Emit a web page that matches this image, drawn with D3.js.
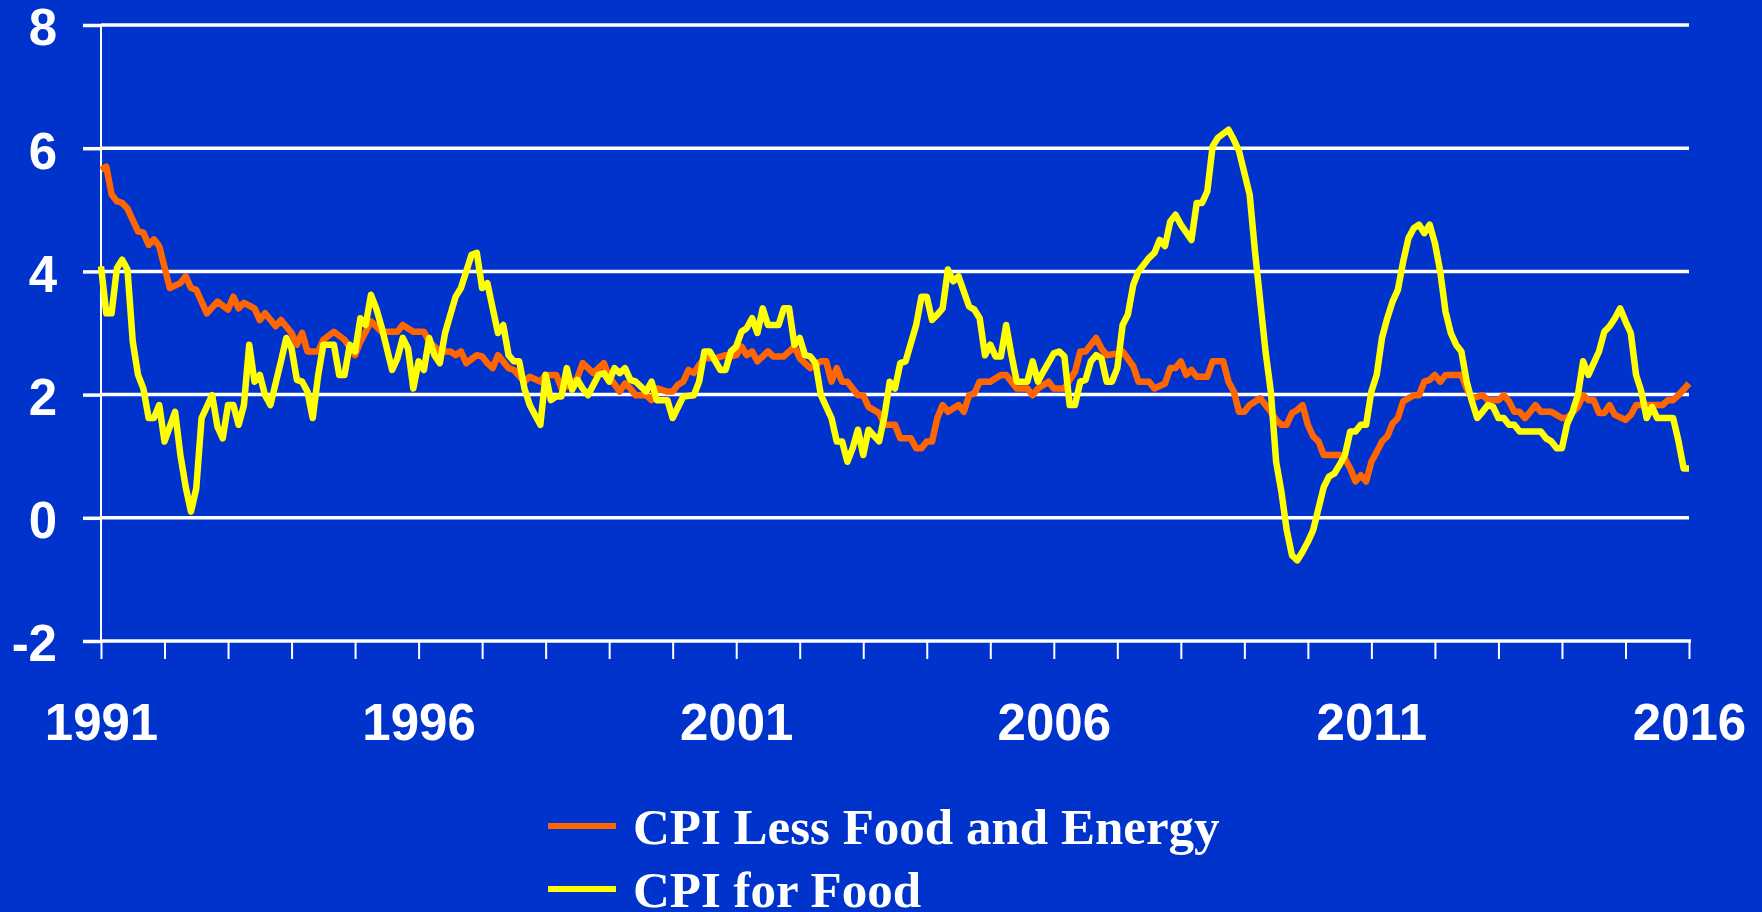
<!DOCTYPE html>
<html>
<head>
<meta charset="utf-8">
<script src="https://cdn.jsdelivr.net/npm/d3@7"></script>
<style>
  html, body { margin: 0; padding: 0; background: #0033CC; overflow: hidden; }
  svg { display: block; }
</style>
</head>
<body>
<svg id="chart" width="1762" height="912"></svg>
<script>
// ---- Data (months counted from Jan 1991, values in % change y/y) ----
const yTickValues = [-2, 0, 2, 4, 6, 8];
const yTickLabels = ["-2", "0", "2", "4", "6", "8"];
const yearLabels = ["1991", "1996", "2001", "2006", "2011", "2016"];
const seriesNames = ["CPI Less Food and Energy", "CPI for Food"];

const coreMonths = [0,1,2,3,4,5,7,8,9,10,11,13,15,16,17,18,20,22,24,25,26,27,29,30,31,33,34,36,37,38,39,41,42,44,46,48,49,50,51,53,56,57,59,61,62,64,66,67,68,69,71,72,73,74,75,77,78,80,81,83,84,86,87,89,90,91,93,95,96,98,99,100,101,103,104,105,107,108,109,110,111,112,113,114,116,118,119,120,121,122,123,124,126,127,129,131,132,134,136,137,138,139,140,141,143,144,145,147,148,150,151,153,154,155,156,157,158,159,160,162,163,164,165,166,168,170,171,172,173,175,176,177,179,180,182,184,185,186,187,188,189,190,192,193,195,196,198,199,201,202,203,204,205,206,207,209,210,212,213,214,215,216,217,219,221,222,223,224,225,226,227,228,229,230,231,234,235,236,237,238,239,240,241,242,243,244,245,246,248,249,250,251,252,253,254,257,258,259,261,262,264,265,266,267,268,269,270,271,272,274,276,277,279,280,281,282,283,284,285,286,288,289,290,295,296,297,298,300];
const coreValues = [5.65,5.70,5.25,5.14,5.11,5.02,4.65,4.63,4.43,4.52,4.41,3.73,3.81,3.92,3.73,3.70,3.32,3.51,3.38,3.59,3.40,3.49,3.40,3.21,3.32,3.11,3.21,3.00,2.81,3.00,2.70,2.70,2.89,3.02,2.89,2.64,2.86,3.02,3.19,3.02,3.02,3.13,3.02,3.02,2.86,2.70,2.70,2.64,2.70,2.51,2.64,2.62,2.51,2.43,2.64,2.43,2.40,2.21,2.29,2.21,2.32,2.32,2.10,2.18,2.27,2.51,2.35,2.51,2.29,2.05,2.18,2.10,1.99,1.99,1.91,2.10,2.05,2.05,2.16,2.21,2.40,2.35,2.48,2.59,2.59,2.64,2.62,2.64,2.78,2.64,2.70,2.54,2.70,2.62,2.62,2.78,2.59,2.43,2.54,2.54,2.21,2.43,2.21,2.21,1.99,1.99,1.80,1.70,1.51,1.51,1.29,1.29,1.13,1.13,1.24,1.24,1.62,1.83,1.72,1.83,1.72,1.99,2.02,2.21,2.21,2.32,2.32,2.21,2.10,2.10,1.99,2.10,2.21,2.10,2.10,2.37,2.70,2.70,2.81,2.92,2.75,2.64,2.67,2.70,2.46,2.21,2.21,2.10,2.18,2.43,2.43,2.54,2.32,2.40,2.29,2.29,2.54,2.54,2.21,2.05,1.72,1.72,1.83,1.94,1.72,1.59,1.51,1.51,1.70,1.75,1.83,1.51,1.32,1.24,1.02,1.02,0.96,0.80,0.59,0.69,0.59,0.91,1.07,1.24,1.32,1.53,1.62,1.89,1.99,1.99,2.21,2.24,2.32,2.21,2.32,2.32,2.10,1.94,1.99,1.91,1.91,1.99,1.89,1.72,1.72,1.62,1.72,1.83,1.72,1.72,1.62,1.62,1.80,1.99,1.91,1.91,1.70,1.70,1.83,1.67,1.59,1.67,1.83,1.83,1.91,1.91,1.99,2.18];

const foodMonths = [0,1,2,3,4,5,6,7,8,9,10,11,12,14,15,16,17,18,19,21,22,23,24,25,26,27,28,29,30,31,32,34,35,36,37,38,39,40,41,42,44,45,46,47,48,49,50,51,52,53,55,56,57,58,59,60,61,62,63,64,65,66,67,68,70,71,72,73,74,75,76,77,78,79,80,81,82,83,84,85,86,87,88,89,90,91,92,94,95,96,97,98,99,100,101,103,104,105,107,108,110,112,113,114,115,117,118,119,120,121,122,123,124,125,126,128,129,130,131,132,133,134,135,136,138,139,140,141,142,143,144,145,147,148,149,150,151,152,154,155,156,157,158,159,160,161,162,164,165,166,167,168,169,170,171,172,173,175,176,177,178,180,181,182,183,184,185,186,187,188,189,190,191,192,193,194,195,196,198,199,200,201,202,203,204,206,207,208,209,210,211,213,214,215,217,218,220,221,222,223,224,225,226,227,228,229,230,231,232,233,234,235,236,237,238,239,240,241,242,243,244,245,246,247,248,249,250,251,252,253,254,255,256,257,258,259,260,261,262,263,264,265,266,267,268,272,273,274,275,276,277,278,279,280,281,282,283,284,285,286,287,288,289,290,291,292,293,294,297,298,299,300];
const foodValues = [4.08,3.32,3.32,4.05,4.19,4.03,2.86,2.32,2.10,1.62,1.62,1.83,1.24,1.72,1.02,0.50,0.10,0.48,1.62,1.99,1.48,1.29,1.83,1.83,1.51,1.83,2.81,2.21,2.32,1.99,1.83,2.54,2.92,2.75,2.24,2.21,2.05,1.62,2.30,2.81,2.81,2.32,2.32,2.81,2.70,3.24,3.13,3.62,3.40,3.10,2.40,2.59,2.92,2.75,2.10,2.54,2.40,2.92,2.64,2.51,3.00,3.30,3.59,3.73,4.27,4.30,3.73,3.81,3.40,3.00,3.13,2.64,2.54,2.54,2.10,1.83,1.67,1.51,2.32,1.91,1.97,1.97,2.43,2.08,2.24,2.10,1.99,2.32,2.35,2.21,2.43,2.35,2.43,2.24,2.21,2.05,2.21,1.91,1.91,1.62,1.97,1.99,2.21,2.70,2.70,2.40,2.40,2.70,2.78,3.02,3.08,3.24,3.00,3.40,3.13,3.13,3.40,3.40,2.81,2.92,2.64,2.62,2.51,1.99,1.62,1.24,1.24,0.91,1.13,1.43,1.02,1.43,1.24,1.65,2.21,2.10,2.51,2.54,3.13,3.59,3.59,3.21,3.30,3.40,4.03,3.84,3.92,3.43,3.38,3.24,2.64,2.81,2.62,2.62,3.13,2.64,2.21,2.21,2.54,2.21,2.37,2.67,2.70,2.62,1.83,1.83,2.21,2.24,2.54,2.64,2.59,2.21,2.21,2.43,3.13,3.30,3.78,4.00,4.22,4.30,4.51,4.41,4.81,4.92,4.76,4.51,5.11,5.11,5.30,6.03,6.17,6.30,6.14,5.95,5.25,4.33,2.70,2.05,0.91,0.42,-0.20,-0.61,-0.69,-0.55,-0.39,-0.20,0.15,0.50,0.67,0.72,0.86,1.02,1.40,1.40,1.51,1.51,2.05,2.32,2.92,3.24,3.51,3.70,4.16,4.54,4.70,4.76,4.62,4.76,4.46,4.00,3.35,3.00,2.81,2.70,2.21,1.89,1.62,1.72,1.83,1.80,1.62,1.62,1.51,1.51,1.40,1.40,1.29,1.24,1.13,1.13,1.53,1.72,1.99,2.54,2.32,2.51,2.70,3.02,3.11,3.24,3.40,3.19,3.00,2.32,2.05,1.62,1.80,1.62,1.62,1.25,0.80,0.80];

const seriesColors = ["#FF6600", "#FFFF00"];

// ---- Layout ----
const svg = d3.select("#chart");
const plotLeft = 101, plotRight = 1689, plotTop = 25, plotBottom = 641;
const x = d3.scaleLinear().domain([0, 300]).range([plotLeft, plotRight]);
const y = d3.scaleLinear().domain([-2, 8]).range([plotBottom, plotTop]);

svg.append("rect").attr("width", 1762).attr("height", 912).attr("fill", "#0033CC");

// Gridlines
svg.append("g")
  .selectAll("line")
  .data(yTickValues.filter(v => v > -2))
  .join("line")
  .attr("x1", plotLeft).attr("x2", plotRight)
  .attr("y1", d => y(d)).attr("y2", d => y(d))
  .attr("stroke", "#FFFFFF").attr("stroke-width", 3.5);

// Y axis
const yAxis = svg.append("g")
  .attr("transform", `translate(${plotLeft},0)`)
  .call(d3.axisLeft(y).tickValues(yTickValues).tickSize(18).tickSizeOuter(0).tickPadding(26)
    .tickFormat(d => yTickLabels[yTickValues.indexOf(d)]));
yAxis.select(".domain").attr("stroke", "#FFFFFF").attr("stroke-width", 2).attr("d", `M0,${plotTop - 1}V${plotBottom}`);
yAxis.selectAll(".tick line").attr("stroke", "#FFFFFF").attr("stroke-width", 3.5);
yAxis.selectAll(".tick text")
  .attr("fill", "#FFFFFF")
  .attr("dy", "0.39em")
  .style("font-family", "'Liberation Sans', Arial, sans-serif")
  .style("font-weight", "bold")
  .style("font-size", "51px");

// X axis
const xTicks = d3.range(0, 301, 12);
const xAxis = svg.append("g")
  .attr("transform", `translate(0,${plotBottom})`)
  .call(d3.axisBottom(x).tickValues(xTicks).tickSize(18).tickSizeOuter(0).tickPadding(45)
    .tickFormat(d => (d % 60 === 0 ? yearLabels[d / 60] : "")));
xAxis.select(".domain").attr("stroke", "#FFFFFF").attr("stroke-width", 3.5).attr("d", `M${plotLeft},0H${plotRight + 2}`);
xAxis.selectAll(".tick line").attr("stroke", "#FFFFFF").attr("stroke-width", 2);
xAxis.selectAll(".tick text")
  .attr("fill", "#FFFFFF")
  .style("font-family", "'Liberation Sans', Arial, sans-serif")
  .style("font-weight", "bold")
  .style("font-size", "51px");

// Lines
const line = d3.line().x(d => x(d[0])).y(d => y(d[1]));
const coreData = coreMonths.map((m, i) => [m, coreValues[i]]);
const foodData = foodMonths.map((m, i) => [m, foodValues[i]]);

[coreData, foodData].forEach((data, i) => {
  svg.append("path")
    .datum(data)
    .attr("d", line)
    .attr("fill", "none")
    .attr("stroke", seriesColors[i])
    .attr("stroke-width", 6.5)
    .attr("stroke-linejoin", "round")
    .attr("stroke-linecap", "butt");
});

// Legend
const legend = svg.append("g");
const legendY = [826, 889];
seriesNames.forEach((name, i) => {
  legend.append("line")
    .attr("x1", 548).attr("x2", 616)
    .attr("y1", legendY[i]).attr("y2", legendY[i])
    .attr("stroke", seriesColors[i]).attr("stroke-width", 6);
  legend.append("text")
    .attr("x", 633).attr("y", legendY[i] + 18)
    .attr("fill", "#FFFFFF")
    .style("font-family", "'Liberation Serif', 'Times New Roman', serif")
    .style("font-weight", "bold")
    .style("font-size", "51px")
    .text(name);
});
</script>
</body>
</html>
